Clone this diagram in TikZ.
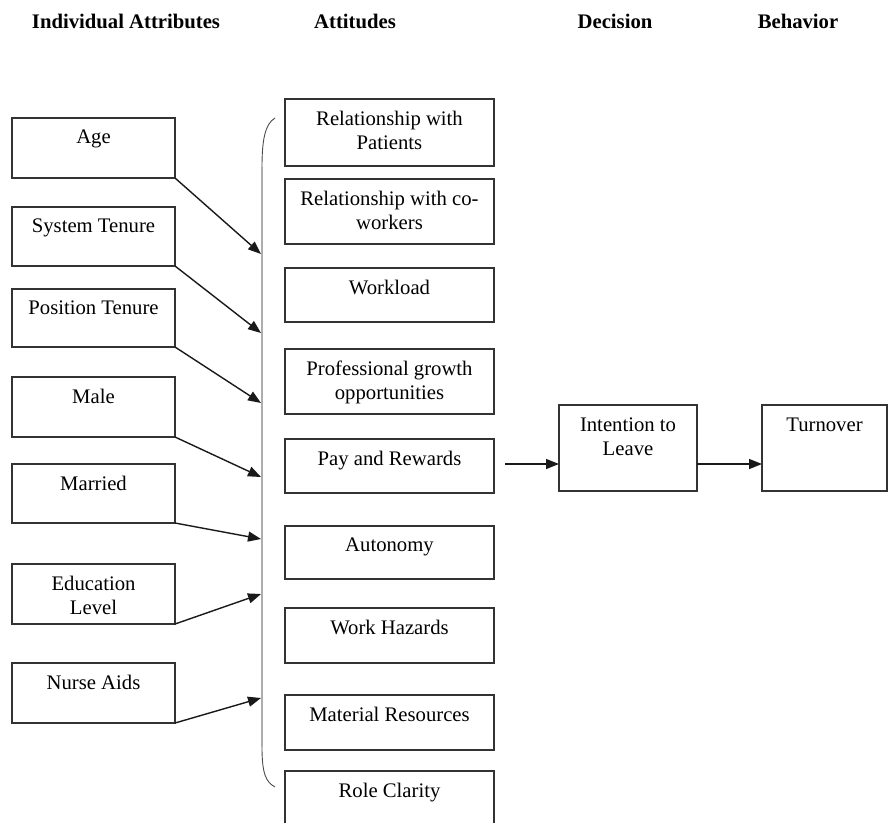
\documentclass[tikz,border=0pt]{standalone}
\usepackage{fontspec}
\setmainfont{Liberation Serif}
\usetikzlibrary{arrows.meta}
\begin{document}
\begin{tikzpicture}[x=1pt,y=-1pt,
  box/.style={draw=black!80, line width=1.3pt, inner sep=0pt, outer sep=0pt},
  lbox/.style={box, minimum width=163pt},
  mbox/.style={box, minimum width=209pt},
  lbl/.style={anchor=north, inner sep=0pt, align=center, font=\fontsize{20.7}{24}\selectfont},
  hdr/.style={anchor=base, inner sep=0pt, font=\fontsize{20.7}{24}\selectfont\bfseries},
  arr/.style={draw=black!90, line width=1.4pt, -{Triangle[length=13pt,width=10pt]}},
  bracel/.style={draw=black!32, line width=2.6pt},
  bracec/.style={draw=black!70, line width=0.9pt}]
\useasboundingbox (0,0) rectangle (888,822);
\clip (0,0) rectangle (888,822);

% headers
\node[hdr] (h1) at (126,28) {Individual Attributes};
\node[hdr] (h2) at (355,28) {Attitudes};
\node[hdr] (h3) at (615,28) {Decision};
\node[hdr] (h4) at (798,28) {Behavior};

% left boxes
\node[lbox, minimum height=60pt] (age) at (93.5,148) {};
\node[lbox, minimum height=59pt] (sys) at (93.5,236.5) {};
\node[lbox, minimum height=58pt] (pos) at (93.5,318) {};
\node[lbox, minimum height=60pt] (male) at (93.5,407) {};
\node[lbox, minimum height=59pt] (mar) at (93.5,493.5) {};
\node[lbox, minimum height=60pt] (edu) at (93.5,594) {};
\node[lbox, minimum height=60pt] (nurse) at (93.5,693) {};

\node[lbl] (agetxt) at ([yshift=-12pt]age.north) {Age};
\node[lbl] (systxt) at ([yshift=-12pt]sys.north) {System Tenure};
\node[lbl] (postxt) at ([yshift=-12pt]pos.north) {Position Tenure};
\node[lbl] (maletxt) at ([yshift=-12pt]male.north) {Male};
\node[lbl] (martxt) at ([yshift=-12pt]mar.north) {Married};
\node[lbl] (edutxt) at ([yshift=-12pt]edu.north) {Education\\Level};
\node[lbl] (nursetxt) at ([yshift=-12pt]nurse.north) {Nurse Aids};

% middle boxes
\node[mbox, minimum height=67pt] (rwp) at (389.5,132.5) {};
\node[mbox, minimum height=65pt] (rwc) at (389.5,211.5) {};
\node[mbox, minimum height=54pt] (work) at (389.5,295) {};
\node[mbox, minimum height=65pt] (prof) at (389.5,381.5) {};
\node[mbox, minimum height=54pt] (pay) at (389.5,466) {};
\node[mbox, minimum height=53pt] (auto) at (389.5,552.5) {};
\node[mbox, minimum height=55pt] (haz) at (389.5,635.5) {};
\node[mbox, minimum height=55pt] (mat) at (389.5,722.5) {};
\node[mbox, minimum height=64pt] (role) at (389.5,803) {};

\node[lbl] (rwptxt) at ([yshift=-12pt]rwp.north) {Relationship with\\Patients};
\node[lbl] (rwctxt) at ([yshift=-12pt]rwc.north) {Relationship with co-\\workers};
\node[lbl] (worktxt) at ([yshift=-12pt]work.north) {Workload};
\node[lbl] (proftxt) at ([yshift=-12pt]prof.north) {Professional growth\\opportunities};
\node[lbl] (paytxt) at ([yshift=-12pt]pay.north) {Pay and Rewards};
\node[lbl] (autotxt) at ([yshift=-12pt]auto.north) {Autonomy};
\node[lbl] (haztxt) at ([yshift=-12pt]haz.north) {Work Hazards};
\node[lbl] (mattxt) at ([yshift=-12pt]mat.north) {Material Resources};
\node[lbl] (roletxt) at ([yshift=-12pt]role.north) {Role Clarity};

% decision / behavior
\node[box, minimum width=138pt, minimum height=86pt] (intent) at (628,448) {};
\node[box, minimum width=125pt, minimum height=86pt] (turn) at (824.5,448) {};
\node[lbl] (intenttxt) at ([yshift=-13pt]intent.north) {Intention to\\Leave};
\node[lbl] (turntxt) at ([yshift=-13pt]turn.north) {Turnover};

% brace
\coordinate (btop) at (275,118);
\coordinate (bu) at (262,167);
\coordinate (bl) at (262,747);
\coordinate (bbot) at (275,787);
\draw[bracel] (bu) -- (bl);
\draw[bracec] (btop) .. controls (265,124) and (262,140) .. (bu);
\draw[bracec] (bl) .. controls (262,774) and (266,782) .. (bbot);

% brace targets
\coordinate (b1) at (261,254);
\coordinate (b2) at (261,333);
\coordinate (b3) at (261,403);
\coordinate (b4) at (261,477);
\coordinate (b5) at (261,539);
\coordinate (b6) at (261,594);
\coordinate (b7) at (261,698);

\draw[arr] (age.south east) -- (b1);
\draw[arr] (sys.south east) -- (b2);
\draw[arr] (pos.south east) -- (b3);
\draw[arr] (male.south east) -- (b4);
\draw[arr] (mar.south east) -- (b5);
\draw[arr] (edu.south east) -- (b6);
\draw[arr] (nurse.south east) -- (b7);

% right arrows
\coordinate (pstart) at (505,464);
\draw[arr] (pstart) -- (pstart -| intent.west);
\draw[arr] (pstart -| intent.east) -- (pstart -| turn.west);
\end{tikzpicture}
\end{document}
